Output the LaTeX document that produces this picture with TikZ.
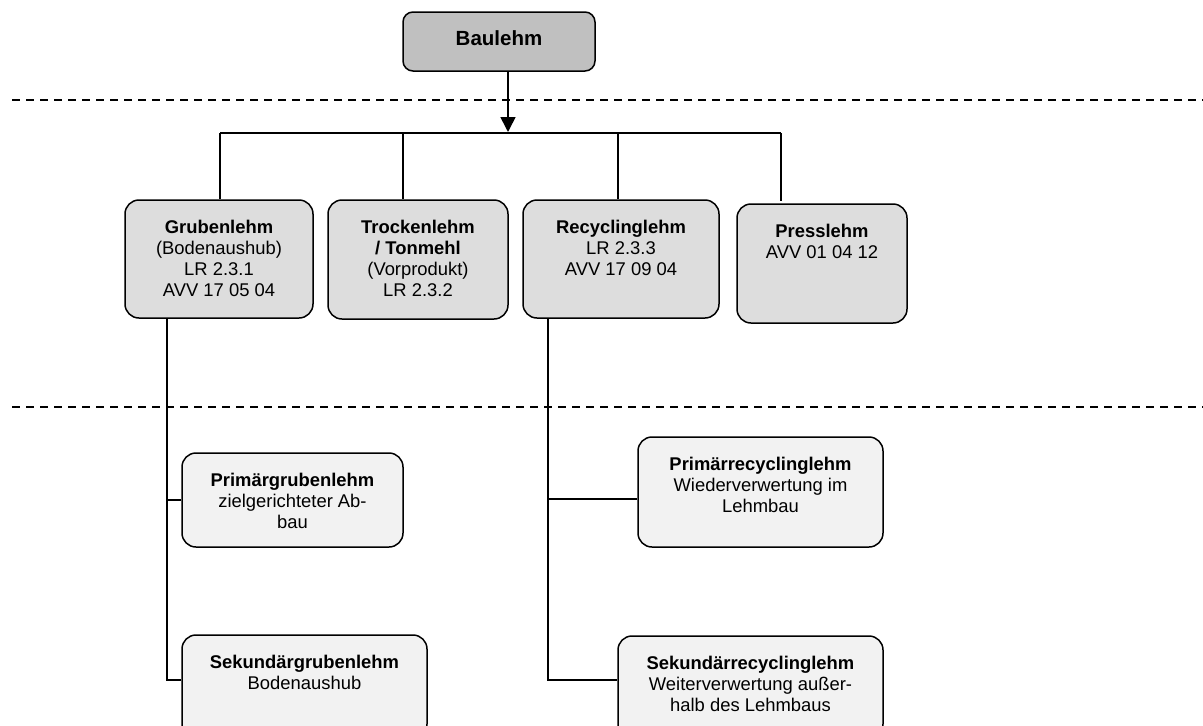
\documentclass[tikz,border=0pt]{standalone}
\usepackage{fontspec}
\setmainfont{Liberation Sans}
\usetikzlibrary{arrows.meta}
\definecolor{topgray}{HTML}{C0C0C0}
\definecolor{midgray}{HTML}{DDDDDD}
\definecolor{lowgray}{HTML}{F2F2F2}
\tikzset{
  box/.style={draw=black, line width=1.5pt, rounded corners=14pt, inner sep=0pt},
  topbox/.style={box, fill=topgray, rounded corners=10pt},
  midbox/.style={box, fill=midgray},
  lowbox/.style={box, fill=lowgray},
  txt/.style={anchor=north, inner sep=0pt, align=center, font=\fontsize{18.4}{21}\selectfont, yshift=-21pt},
  conn/.style={line width=1.6pt, draw=black},
  sep/.style={line width=1.5pt, draw=black, dash pattern=on 8pt off 6pt}
}
\begin{document}
\begin{tikzpicture}[x=1pt, y=-1pt]
\useasboundingbox (0,0) rectangle (1203,726);
\clip (0,0) rectangle (1203,726);

% separators
\coordinate (s1a) at (12,100); \coordinate (s1b) at (1203,100);
\coordinate (s2a) at (12,407); \coordinate (s2b) at (1203,407);
\draw[sep] (s1a) -- (s1b);
\draw[sep] (s2a) -- (s2b);

% boxes
\node[topbox, minimum width=192pt, minimum height=59pt] (bau) at (499,41.5) {};
\node[anchor=base, inner sep=0pt, font=\fontsize{20.5}{24}\selectfont\bfseries] (bautxt) at (499,45) {Baulehm};

\node[midbox, minimum width=188pt, minimum height=118pt] (grub) at (219,259) {};
\node[txt] (grubtxt) at (grub.north) {\textbf{Grubenlehm}\\(Bodenaushub)\\LR 2.3.1\\AVV 17 05 04};

\node[midbox, minimum width=180pt, minimum height=119pt] (trock) at (418,259.5) {};
\node[txt] (trocktxt) at (trock.north) {\textbf{Trockenlehm}\\\textbf{/ Tonmehl}\\(Vorprodukt)\\LR 2.3.2};

\node[midbox, minimum width=196pt, minimum height=118pt] (recy) at (621,259) {};
\node[txt] (recytxt) at (recy.north) {\textbf{Recyclinglehm}\\LR 2.3.3\\AVV 17 09 04};

\node[midbox, minimum width=170pt, minimum height=119pt] (press) at (822,263.5) {};
\node[txt] (presstxt) at (press.north) {\textbf{Presslehm}\\AVV 01 04 12};

\node[lowbox, minimum width=221pt, minimum height=94pt] (pgrub) at (292.5,500) {};
\node[txt] (pgrubtxt) at (pgrub.north) {\textbf{Primärgrubenlehm}\\zielgerichteter Ab-\\bau};

\node[lowbox, minimum width=245pt, minimum height=103pt] (sgrub) at (304.5,686.5) {};
\node[txt] (sgrubtxt) at (sgrub.north) {\textbf{Sekundärgrubenlehm}\\Bodenaushub};

\node[lowbox, minimum width=245pt, minimum height=110pt] (precy) at (760.5,492) {};
\node[txt] (precytxt) at (precy.north) {\textbf{Primärrecyclinglehm}\\Wiederverwertung im\\Lehmbau};

\node[lowbox, minimum width=265pt, minimum height=102pt] (srecy) at (750.5,687) {};
\node[txt] (srecytxt) at (srecy.north) {\textbf{Sekundärrecyclinglehm}\\Weiterverwertung außer-\\halb des Lehmbaus};

% bus
\coordinate (tip) at (508,132);
\coordinate (b1) at (220,133);
\coordinate (b2) at (403,133);
\coordinate (b3) at (618,133);
\coordinate (b4) at (781,133);
\draw[conn, -{Triangle[width=15pt,length=15pt]}] (bau.south -| tip) -- (tip);
\draw[conn] (b1) -- (b4);
\draw[conn] (b1) -- (b1 |- grub.north);
\draw[conn] (b2) -- (b2 |- trock.north);
\draw[conn] (b3) -- (b3 |- recy.north);
\draw[conn] (b4) -- ++(0,68);

% lower branches
\coordinate (g0) at (167,318);
\coordinate (g1) at (167,500);
\coordinate (g2) at (167,680);
\coordinate (r0) at (548,318);
\coordinate (r1) at (548,499);
\coordinate (r2) at (548,680);
\draw[conn] (g0) -- (g2) -- (g2 -| sgrub.west);
\draw[conn] (g1) -- (g1 -| pgrub.west);
\draw[conn] (r0) -- (r2) -- (r2 -| srecy.west);
\draw[conn] (r1) -- (r1 -| precy.west);
\end{tikzpicture}
\end{document}
